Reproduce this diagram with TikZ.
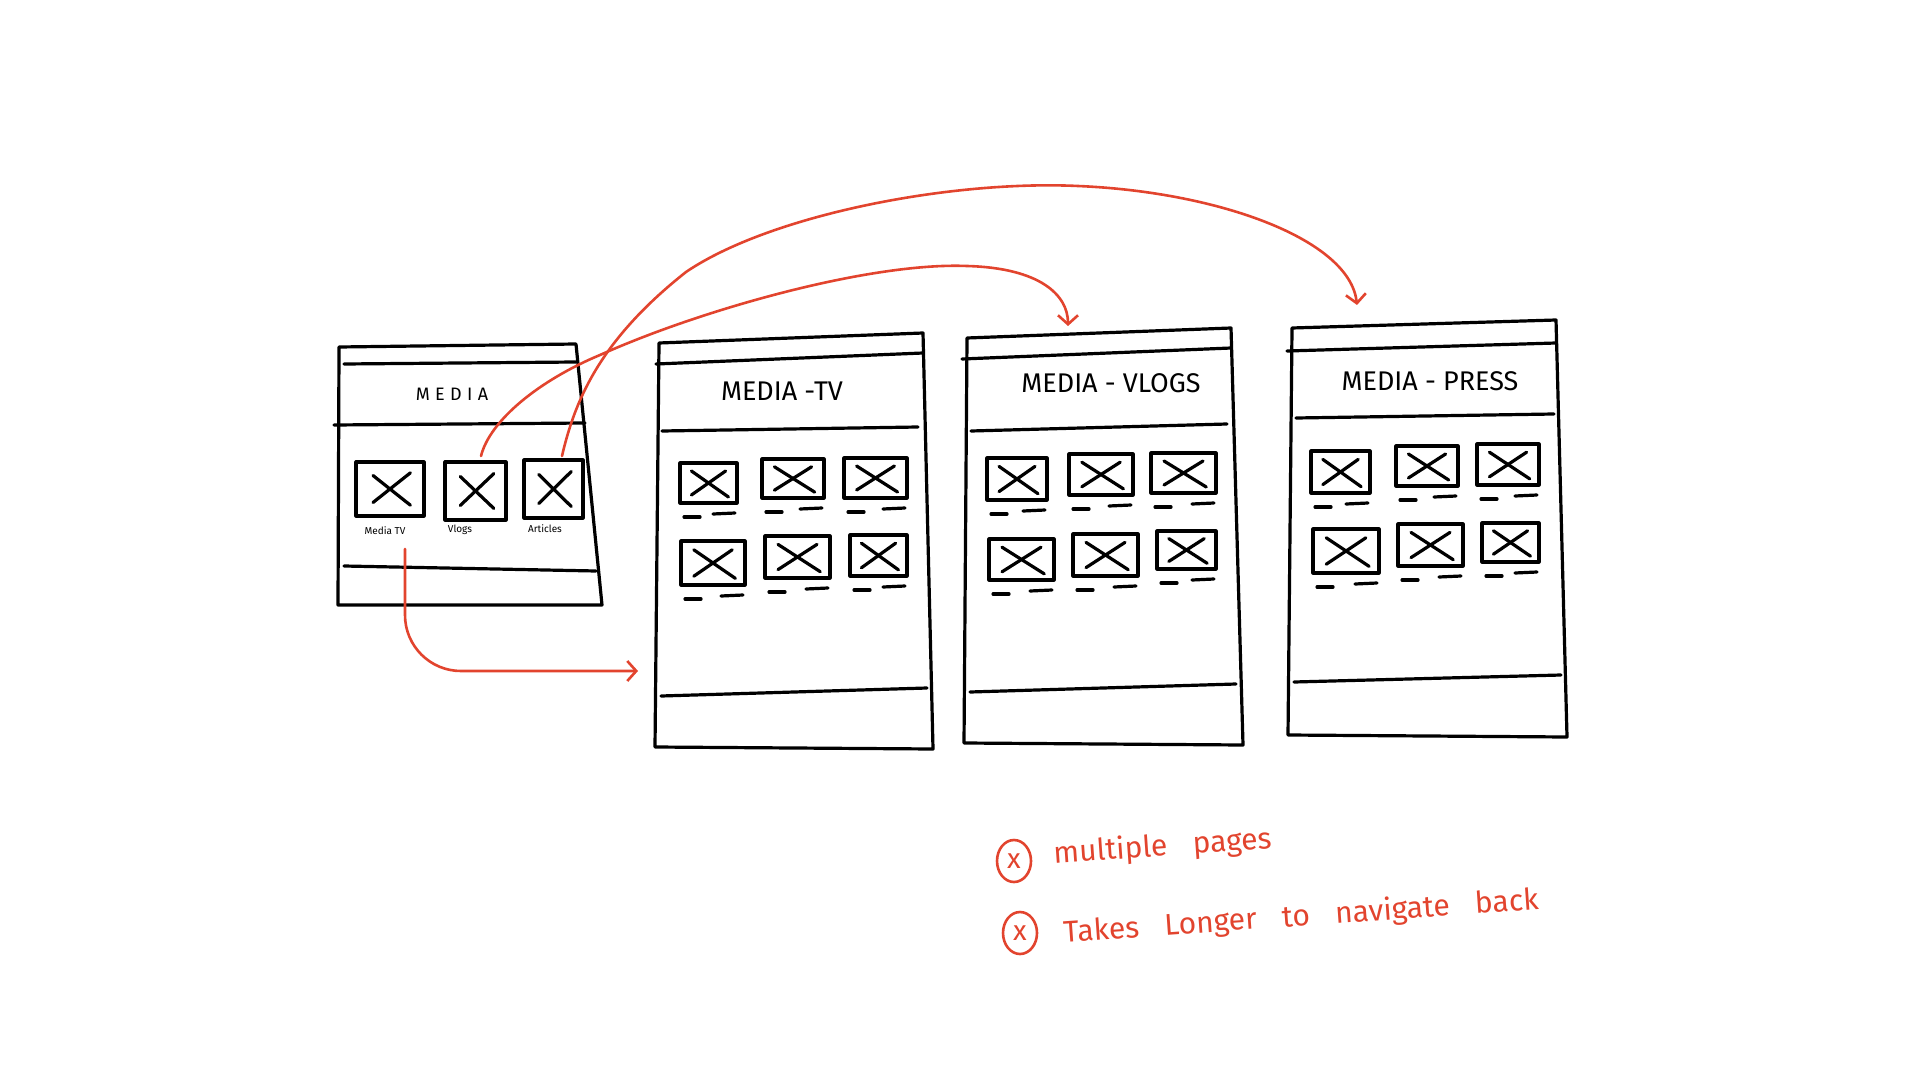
\documentclass[tikz,border=0pt]{standalone}
\usepackage{fontspec}
\setmainfont{Fira Sans}
\newfontfamily\notefont[WordSpace=3.2]{Fira Sans}
\usetikzlibrary{arrows.meta,calc,shapes.geometric}
\definecolor{penred}{RGB}{226,68,46}

\begin{document}
\begin{tikzpicture}[x=0.5pt, y=-0.5pt, line width=1.6pt, line cap=round, line join=round,
  >={Straight Barb[length=4.5pt,width=10pt]},
  flow/.style={penred, line width=1.3pt, ->},
  pagetitle/.style={font=\fontsize{13.5}{16}\selectfont},
  tinylabel/.style={font=\fontsize{5}{6}\selectfont, inner sep=0pt},
  xmark/.style={ellipse, draw=penred, text=penred, line width=1.3pt, minimum width=17pt,
    minimum height=21pt, inner sep=0pt, font=\fontsize{14}{16}\selectfont},
  note/.style={text=penred, anchor=west, rotate=4, inner sep=0pt,
    font=\notefont\fontsize{15}{18}\selectfont}]
  \useasboundingbox (0,0) rectangle (1920,1080);

  % home page
  \draw (339,347) -- (576,344) -- (602,605) -- (338,605) -- cycle;
  \draw (344,364) -- (576,362);
  \draw (334,425) -- (585,423);
  \draw (344,566) -- (596,571);
  \node[font=\fontsize{9}{11}\selectfont\addfontfeature{LetterSpace=30}] (home) at (452,394) {MEDIA};
  \foreach \xa/\ya/\xb/\yb in {356/462/424/516, 445/462/506/520, 524/460/583/518}{
    \draw (\xa,\ya) rectangle (\xb,\yb);
    \draw ($(\xa,\ya)!0.25!(\xb,\yb)$) -- ($(\xa,\ya)!0.8!(\xb,\yb)$);
    \draw ($(\xb,\ya)!0.2!(\xa,\yb)$) -- ($(\xb,\ya)!0.75!(\xa,\yb)$);
  }
  \node[tinylabel] (lbl-tv) at (385,531) {Media TV};
  \node[tinylabel] (lbl-vlogs) at (460,530) {Vlogs};
  \node[tinylabel] (lbl-press) at (545,529) {Articles};

  % media - tv
  \draw (659,343) -- (923,333) -- (933,749) -- (655,747) -- cycle;
  \draw (656,364) -- (923,353);
  \draw (662,431) -- (918,427);
  \draw (661,696) -- (927,688);
  \node[pagetitle] (tv) at (782,391) {MEDIA -TV};

  % media - vlogs
  \draw (967,338) -- (1231,328) -- (1243,745) -- (964,743) -- cycle;
  \draw (962,359) -- (1231,348);
  \draw (971,431) -- (1227,424);
  \draw (970,692) -- (1236,684);
  \node[pagetitle] (vlogs) at (1111,383) {MEDIA - VLOGS};

  % media - press
  \draw (1292,328) -- (1556,320) -- (1567,737) -- (1288,735) -- cycle;
  \draw (1287,351) -- (1556,343);
  \draw (1296,418) -- (1554,414);
  \draw (1294,682) -- (1561,675);
  \node[pagetitle] (press) at (1430,381) {MEDIA - PRESS};

  % thumbnails
  \foreach \xa/\ya/\xb/\yb in {680/463/737/503, 762/459/824/498, 844/458/907/498,
    681/541/745/585, 765/536/830/578, 850/535/907/576,
    987/458/1047/500, 1069/454/1133/495, 1151/453/1216/493,
    989/539/1054/580, 1073/534/1138/576, 1157/531/1216/569,
    1311/451/1370/493, 1396/446/1458/486, 1477/444/1539/485,
    1313/529/1379/573, 1398/524/1463/566, 1482/523/1539/562}{
    \draw (\xa,\ya) rectangle (\xb,\yb);
    \draw ($(\xa,\ya)!0.2!(\xb,\yb)$) -- ($(\xa,\ya)!0.85!(\xb,\yb)$);
    \draw ($(\xb,\ya)!0.2!(\xa,\yb)$) -- ($(\xb,\ya)!0.8!(\xa,\yb)$);
    \draw ($(\xa,\yb)+(4,14)$) -- ++(16,0);
    \draw ($(\xb,\yb)+(-24,11)$) -- ++(22,-1);
  }

  % connectors
  \coordinate (tv-src) at (405,549);
  \coordinate (tv-in) at (638,671);
  \coordinate (vlogs-src) at (481,456);
  \coordinate (vlogs-in) at (1068,326);
  \coordinate (press-src) at (562,456);
  \coordinate (press-in) at (1357,305);
  \draw[flow, rounded corners=28pt] (tv-src) |- (tv-in);
  \draw[flow] (vlogs-src) .. controls (490,420) and (540,380) .. (600,355)
    .. controls (700,310) and (870,262) .. (967,266)
    .. controls (1040,268) and (1068,295) .. (vlogs-in);
  \draw[flow] (press-src) .. controls (575,400) and (600,340) .. (686,272)
    .. controls (770,215) and (950,180) .. (1078,186)
    .. controls (1220,192) and (1350,240) .. (press-in);

  % notes
  \node[xmark] (mark1) at (1014,861) {x};
  \node[note] (note1) at (1052,855) {multiple pages};
  \node[xmark] (mark2) at (1020,933) {x};
  \node[note] (note2) at (1062,934) {Takes Longer to navigate back};
\end{tikzpicture}
\end{document}
